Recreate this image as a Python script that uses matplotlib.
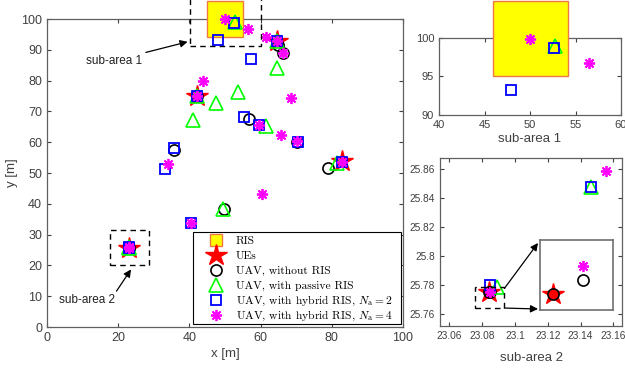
import matplotlib
matplotlib.use('Agg')
import matplotlib.pyplot as plt
from matplotlib.patches import Rectangle
import numpy as np

plt.rcParams['font.family'] = ['Liberation Sans', 'DejaVu Sans']
plt.rcParams['mathtext.fontset'] = 'cm'

# ---- data ----
ris_x = [50.0]
ris_y = [100.0]

ue_x = [42.0, 64.5, 83.0, 23.0844]
ue_y = [75.0, 93.0, 53.8, 25.7752]

noris_x = [42.0, 65.0, 66.4, 56.7, 35.7, 49.8, 79.0, 70.3, 23.0844, 23.0846]
noris_y = [75.0, 91.6, 89.1, 67.4, 57.5, 38.3, 51.7, 60.2, 25.7752, 25.7753]

passive_x = [42.0, 47.5, 41.1, 53.7, 64.5, 64.7, 61.5, 52.8, 49.5, 81.4, 23.0889, 23.1467]
passive_y = [75.0, 72.6, 67.2, 76.4, 93.0, 84.2, 65.3, 98.9, 38.3, 53.1, 25.7789, 25.8478]

hyb2_x = [42.0, 64.5, 47.9, 35.8, 52.6, 57.3, 55.4, 59.6, 70.6, 33.2, 40.4, 83.0, 23.0848, 23.1466]
hyb2_y = [75.0, 93.0, 93.2, 58.0, 98.7, 87.0, 68.1, 65.7, 60.2, 51.2, 33.9, 53.7, 25.7800, 25.8476]

hyb4_x = [42.0, 64.5, 43.9, 50.0, 56.5, 61.5, 66.4, 68.5, 59.6, 65.7, 70.1, 33.9, 40.4, 60.5, 83.0,
          23.0846, 23.1556]
hyb4_y = [75.0, 93.0, 79.9, 99.9, 96.8, 94.3, 89.1, 74.2, 65.7, 62.5, 60.5, 52.9, 33.9, 43.2, 53.7,
          25.7754, 25.8588]

labels = ['RIS', 'UEs', 'UAV, without RIS', 'UAV, with passive RIS',
          r'UAV, with hybrid RIS, $N_\mathrm{a}=2$',
          r'UAV, with hybrid RIS, $N_\mathrm{a}=4$']

ris_face, ris_edge = '#ffff00', '#f07840'
axcol = '#404040'

ris_kw = dict(ls='none', marker='s', mfc=ris_face, mec=ris_edge, mew=1.0)
star_kw = dict(ls='none', marker='*', ms=16, mfc='r', mec='r')
circ_kw = dict(ls='none', marker='o', ms=8, mfc='none', mec='k', mew=1.2)
tri_kw = dict(ls='none', marker='^', ms=9.5, mfc='none', mec=(0, 1, 0), mew=1.2)
sq_kw = dict(ls='none', marker='s', ms=7, mfc='none', mec='b', mew=1.3)
ast_kw = dict(ls='none', marker=(8, 2, 0), ms=8, mfc='none', mec=(1, 0, 1), mew=1.3)


def pts(ax, x, y, kw, z):
    # markers are not clipped at the frame (like MATLAB), so keep only points in range
    x = np.asarray(x)
    y = np.asarray(y)
    x0, x1 = ax.get_xlim()
    y0, y1 = ax.get_ylim()
    m = (x >= x0) & (x <= x1) & (y >= y0) & (y <= y1)
    ax.plot(x[m], y[m], **kw, zorder=z, clip_on=False)


def draw_all(ax, ris_ms):
    pts(ax, ris_x, ris_y, dict(ris_kw, ms=ris_ms), 2.6)
    pts(ax, ue_x, ue_y, star_kw, 3)
    pts(ax, noris_x, noris_y, circ_kw, 4)
    pts(ax, passive_x, passive_y, tri_kw, 5)
    pts(ax, hyb2_x, hyb2_y, sq_kw, 6)
    pts(ax, hyb4_x, hyb4_y, ast_kw, 7)


def style(ax, fs=9):
    ax.tick_params(direction='in', top=True, right=True, labelsize=fs, colors=axcol,
                   length=3, width=0.8)
    for s in ax.spines.values():
        s.set_color('#606060')
        s.set_linewidth(0.9)


fig = plt.figure(figsize=(6.25, 3.7), dpi=100)

# ---- main axes ----
ax = fig.add_axes([0.0752, 0.1162, 0.5696, 0.8324])
ax.set_xlim(0, 100)
ax.set_ylim(0, 100)
draw_all(ax, 26.6)
ax.set_xticks(np.arange(0, 101, 20))
ax.set_yticks(np.arange(0, 101, 10))
style(ax)
ax.set_xlabel('x [m]', fontsize=9.5, color=axcol, labelpad=3)
ax.set_ylabel('y [m]', fontsize=9.5, color=axcol, labelpad=2)

ax.add_patch(Rectangle((40.2, 91.3), 19.9, 20, fill=False, ls=(0, (4, 3)), lw=1.0,
                       ec='k', clip_on=False, zorder=8))
ax.add_patch(Rectangle((17.8, 20.1), 10.8, 11.3, fill=False, ls=(0, (4, 3)), lw=1.0,
                       ec='k', zorder=8))
ax.annotate('sub-area 1', xy=(39.5, 92.6), xytext=(26.6, 86.5), fontsize=8.5,
            color='#202020', ha='right', va='center',
            arrowprops=dict(arrowstyle='-|>', color='k', lw=0.9, mutation_scale=11,
                            shrinkA=1, shrinkB=0))
ax.annotate('sub-area 2', xy=(23.6, 18.7), xytext=(19.0, 8.8), fontsize=8.5,
            color='#202020', ha='right', va='center',
            arrowprops=dict(arrowstyle='-|>', color='k', lw=0.9, mutation_scale=11,
                            shrinkA=0, shrinkB=0, relpos=(1.0, 1.0)))

# legend drawn by hand so the rows are evenly spaced (MATLAB style)
leg_kws = [dict(ris_kw, ms=8), star_kw, circ_kw, tri_kw, sq_kw, ast_kw]
ax.add_patch(Rectangle((0.411, 0.0088), 0.5825, 0.3002, transform=ax.transAxes,
                       fc='white', ec='k', lw=0.8, zorder=10))
for i, (kw, lab) in enumerate(zip(leg_kws, labels)):
    yc = 0.2825 - i * 0.0485
    ax.plot([0.474], [yc], transform=ax.transAxes, clip_on=False, zorder=11, **kw)
    ax.text(0.531, yc - 0.013, lab, transform=ax.transAxes, family='cmr10', fontsize=8.3,
            va='baseline', ha='left', zorder=12)

# ---- inset: sub-area 1 ----
ax1 = fig.add_axes([0.7024, 0.6892, 0.2912, 0.2081])
ax1.set_xlim(40, 60)
ax1.set_ylim(90, 100)
draw_all(ax1, 54)
ax1.set_xticks([40, 45, 50, 55, 60])
ax1.set_yticks([90, 95, 100])
style(ax1, 8)
ax1.set_xlabel('sub-area 1', fontsize=9.5, color=axcol, labelpad=2)

# ---- inset: sub-area 2 ----
ax2 = fig.add_axes([0.704, 0.1197, 0.2917, 0.4524])
ax2.set_xlim(23.0543, 23.1655)
ax2.set_ylim(25.752, 25.8676)
draw_all(ax2, 26.6)
xt = [23.06, 23.08, 23.10, 23.12, 23.14, 23.16]
yt = [25.76, 25.78, 25.80, 25.82, 25.84, 25.86]
ax2.set_xticks(xt)
ax2.set_xticklabels(['23.06', '23.08', '23.1', '23.12', '23.14', '23.16'])
ax2.set_yticks(yt)
ax2.set_yticklabels(['25.76', '25.78', '25.8', '25.82', '25.84', '25.86'])
style(ax2, 7.3)
ax2.set_xlabel('sub-area 2', fontsize=9.5, color=axcol, labelpad=8)
ax2.add_patch(Rectangle((23.0757, 25.7644), 0.0179, 0.0145, fill=False,
                        ls=(0, (4, 3)), lw=1.0, ec='k', zorder=8))

# zoomed detail of sub-area 2
ax3 = fig.add_axes([0.864, 0.1622, 0.1173, 0.1892])
ax3.set_xlim(23.08431, 23.08481)
ax3.set_ylim(25.775085, 25.775585)
pts(ax3, ue_x, ue_y, star_kw, 3)
pts(ax3, noris_x, noris_y, circ_kw, 4)
pts(ax3, hyb4_x, hyb4_y, ast_kw, 7)
ax3.set_xticks([])
ax3.set_yticks([])
for s in ax3.spines.values():
    s.set_color('#707070')
    s.set_linewidth(1.2)

for start, end in [((23.0936, 25.7778), (538, 243)), ((23.0936, 25.7642), (538, 309))]:
    ax2.annotate('', xy=(end[0] / 625, 1 - end[1] / 370), xycoords='figure fraction',
                 xytext=start, textcoords='data',
                 arrowprops=dict(arrowstyle='-|>', color='k', lw=0.9, mutation_scale=11,
                                 shrinkA=0, shrinkB=0))

fig.savefig('out.png', dpi=100)
